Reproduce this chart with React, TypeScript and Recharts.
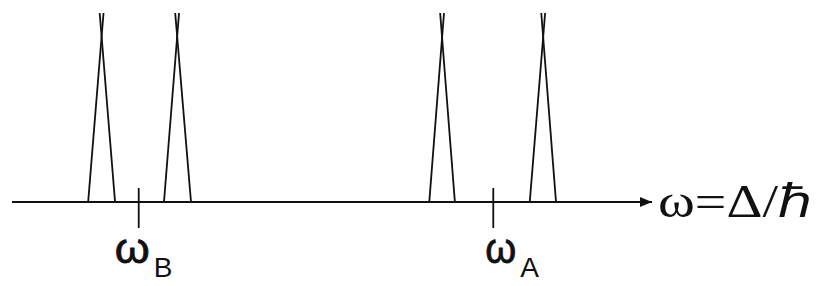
import React from 'react';
import { ComposedChart, Line, XAxis, YAxis, ReferenceLine, ReferenceDot } from 'recharts';

// frequency positions, axis runs 0..100
const peakLeft = [11.9, 23.75, 65.2, 80.9];
const peakRight = [16.1, 27.97, 69.2, 85.0];
const peakApex = [14.0, 25.8, 67.2, 83.0];
const peakHeight = 100;
const apexSkew = 0.3;

const tickPositions = [19.8, 75.2];
const tickNames = ['B', 'A'];
const tickTop = 7.4;
const tickBottom = -13.8;

const axisLabel = 'ω=Δ/ℏ';

const INK = '#111111';

// each peak is two slightly crossing strokes
const strokes = peakLeft.flatMap((left, i) => [
  [
    { x: left, y: 0 },
    { x: peakApex[i] + apexSkew, y: peakHeight },
  ],
  [
    { x: peakRight[i], y: 0 },
    { x: peakApex[i] - apexSkew, y: peakHeight },
  ],
]);

const labelOffsets = [-24, -8];
const omegaWidths = [35, 31];

function OmegaTick(props: any) {
  const { x, y, index } = props;
  const start = x + labelOffsets[index];
  return (
    <g>
      <text
        x={start}
        y={y + 27}
        style={{ fontFamily: 'Liberation Sans, Arial, sans-serif' }}
        fontSize={42}
        fill={INK}
        stroke={INK}
        strokeWidth={0.8}
        textLength={omegaWidths[index]}
        lengthAdjust="spacingAndGlyphs"
      >
        ω
      </text>
      <text
        x={start + omegaWidths[index] + 4}
        y={y + 41}
        style={{ fontFamily: 'Liberation Sans, Arial, sans-serif' }}
        fontSize={28}
        fill={INK}
      >
        {tickNames[index]}
      </text>
    </g>
  );
}

function ArrowHead(props: any) {
  const { cx, cy } = props;
  return (
    <g>
      <polygon points={`${cx},${cy} ${cx - 12},${cy - 5} ${cx - 12},${cy + 5}`} fill={INK} />
      <text
        x={cx + 6}
        y={cy + 15}
        style={{ fontFamily: '"Liberation Serif", "Times New Roman", serif' }}
        fontSize={46}
        fill={INK}
        textLength={154}
        lengthAdjust="spacingAndGlyphs"
      >
        {axisLabel}
      </text>
    </g>
  );
}

export default function App() {
  return (
    <div style={{ position: 'absolute', left: 0, top: 0, background: '#fff' }}>
      <ComposedChart
        width={824}
        height={286}
        margin={{ top: 13, right: 172, left: 12, bottom: 0 }}
      >
        <XAxis
          type="number"
          dataKey="x"
          domain={[0, 100]}
          ticks={tickPositions}
          axisLine={false}
          tickLine={false}
          height={58}
          tick={<OmegaTick />}
          interval={0}
        />
        <YAxis type="number" dataKey="y" domain={[tickBottom, peakHeight]} hide />
        <ReferenceLine
          segment={[{ x: 0, y: 0 }, { x: 100, y: 0 }]}
          stroke={INK}
          strokeWidth={2}
          ifOverflow="visible"
        />
        {tickPositions.map((t) => (
          <ReferenceLine
            key={t}
            segment={[{ x: t, y: tickTop }, { x: t, y: tickBottom }]}
            stroke={INK}
            strokeWidth={1.8}
            ifOverflow="visible"
          />
        ))}
        {strokes.map((s, i) => (
          <Line
            key={i}
            data={s}
            dataKey="y"
            type="linear"
            stroke={INK}
            strokeWidth={1.8}
            dot={false}
            activeDot={false}
            isAnimationActive={false}
          />
        ))}
        <ReferenceDot x={100} y={0} r={1} shape={<ArrowHead />} ifOverflow="visible" />
      </ComposedChart>
    </div>
  );
}
